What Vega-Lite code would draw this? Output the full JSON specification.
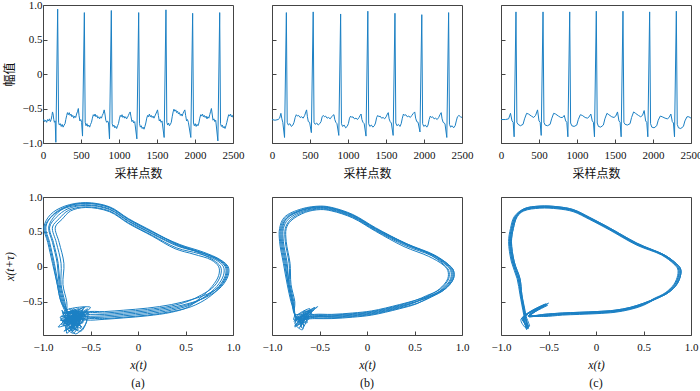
{
"$schema":"https://vega.github.io/schema/vega-lite/v6.json",
"background":"white",
"padding":{"left":2,"top":-2,"right":5,"bottom":0},
"config":{
 "view":{"stroke":"#444","strokeWidth":1},
 "axis":{"domain":false,"grid":false,"tickSize":-4,"tickColor":"#444","tickWidth":1,"labelFont":"Liberation Serif","labelFontSize":11,"labelColor":"#111","labelPadding":5,"labelFlush":false,"labelOverlap":false,"titleFont":"Liberation Serif","titleFontSize":12,"titleFontWeight":"normal","titleColor":"#111"},
 "axisX":{"labelPadding":10},
 "line":{"color":"#1b80c4","strokeWidth":1},
 "title":{"font":"Liberation Serif","fontSize":12,"fontWeight":"normal","color":"#111"}
},
"bounds":"flush",
"columns":3,
"spacing":{"row":54,"column":39},
"datasets":{
"ea":[{"x":0,"y":-0.68},{"x":10,"y":-0.66},{"x":22,"y":-0.69},{"x":35,"y":-0.67},{"x":48,"y":-0.70},{"x":60,"y":-0.66},{"x":72,"y":-0.68},{"x":85,"y":-0.65},{"x":97,"y":-0.69},{"x":108,"y":-0.66},{"x":118,"y":-0.60},{"x":125,"y":-0.55},{"x":133,"y":-0.58},{"x":142,"y":-0.66},{"x":150,"y":-0.70},{"x":160,"y":-0.68},{"x":169,"y":-0.99},{"x":193,"y":0.94},{"x":205,"y":-0.70},{"x":215,"y":-0.74},{"x":228,"y":-0.72},{"x":240,"y":-0.76},{"x":252,"y":-0.73},{"x":265,"y":-0.77},{"x":278,"y":-0.74},{"x":290,"y":-0.72},{"x":300,"y":-0.66},{"x":312,"y":-0.60},{"x":322,"y":-0.56},{"x":333,"y":-0.59},{"x":345,"y":-0.56},{"x":357,"y":-0.60},{"x":368,"y":-0.58},{"x":380,"y":-0.62},{"x":392,"y":-0.60},{"x":405,"y":-0.64},{"x":418,"y":-0.61},{"x":430,"y":-0.63},{"x":442,"y":-0.58},{"x":455,"y":-0.54},{"x":465,"y":-0.50},{"x":474,"y":-0.60},{"x":485,"y":-0.68},{"x":497,"y":-0.66},{"x":508,"y":-0.70},{"x":520,"y":-0.90},{"x":544,"y":0.89},{"x":555,"y":-0.70},{"x":566,"y":-0.75},{"x":578,"y":-0.72},{"x":590,"y":-0.76},{"x":602,"y":-0.74},{"x":614,"y":-0.77},{"x":626,"y":-0.73},{"x":638,"y":-0.70},{"x":650,"y":-0.64},{"x":662,"y":-0.59},{"x":673,"y":-0.61},{"x":685,"y":-0.58},{"x":697,"y":-0.62},{"x":709,"y":-0.60},{"x":721,"y":-0.64},{"x":733,"y":-0.62},{"x":745,"y":-0.65},{"x":757,"y":-0.62},{"x":769,"y":-0.64},{"x":781,"y":-0.60},{"x":793,"y":-0.57},{"x":805,"y":-0.52},{"x":815,"y":-0.58},{"x":826,"y":-0.67},{"x":838,"y":-0.70},{"x":850,"y":-0.68},{"x":862,"y":-0.71},{"x":875,"y":-0.94},{"x":899,"y":0.92},{"x":910,"y":-0.72},{"x":921,"y":-0.76},{"x":933,"y":-0.74},{"x":945,"y":-0.78},{"x":957,"y":-0.76},{"x":969,"y":-0.79},{"x":981,"y":-0.75},{"x":993,"y":-0.72},{"x":1005,"y":-0.65},{"x":1017,"y":-0.60},{"x":1028,"y":-0.62},{"x":1040,"y":-0.59},{"x":1052,"y":-0.63},{"x":1064,"y":-0.61},{"x":1076,"y":-0.64},{"x":1088,"y":-0.62},{"x":1100,"y":-0.65},{"x":1112,"y":-0.63},{"x":1124,"y":-0.60},{"x":1136,"y":-0.57},{"x":1147,"y":-0.55},{"x":1158,"y":-0.62},{"x":1170,"y":-0.69},{"x":1182,"y":-0.67},{"x":1194,"y":-0.71},{"x":1207,"y":-0.69},{"x":1235,"y":-0.94},{"x":1259,"y":0.89},{"x":1270,"y":-0.72},{"x":1281,"y":-0.77},{"x":1293,"y":-0.75},{"x":1305,"y":-0.79},{"x":1317,"y":-0.77},{"x":1329,"y":-0.80},{"x":1341,"y":-0.76},{"x":1353,"y":-0.71},{"x":1365,"y":-0.64},{"x":1377,"y":-0.60},{"x":1388,"y":-0.62},{"x":1400,"y":-0.58},{"x":1412,"y":-0.62},{"x":1424,"y":-0.60},{"x":1436,"y":-0.63},{"x":1448,"y":-0.61},{"x":1460,"y":-0.64},{"x":1472,"y":-0.61},{"x":1484,"y":-0.58},{"x":1496,"y":-0.55},{"x":1507,"y":-0.52},{"x":1518,"y":-0.60},{"x":1530,"y":-0.68},{"x":1542,"y":-0.66},{"x":1554,"y":-0.70},{"x":1566,"y":-0.68},{"x":1594,"y":-0.92},{"x":1618,"y":0.93},{"x":1629,"y":-0.70},{"x":1640,"y":-0.74},{"x":1652,"y":-0.71},{"x":1664,"y":-0.75},{"x":1676,"y":-0.73},{"x":1688,"y":-0.70},{"x":1700,"y":-0.62},{"x":1712,"y":-0.55},{"x":1723,"y":-0.51},{"x":1735,"y":-0.54},{"x":1747,"y":-0.52},{"x":1759,"y":-0.56},{"x":1771,"y":-0.54},{"x":1783,"y":-0.58},{"x":1795,"y":-0.56},{"x":1807,"y":-0.60},{"x":1819,"y":-0.58},{"x":1831,"y":-0.61},{"x":1843,"y":-0.57},{"x":1855,"y":-0.54},{"x":1866,"y":-0.52},{"x":1877,"y":-0.60},{"x":1889,"y":-0.68},{"x":1901,"y":-0.66},{"x":1913,"y":-0.70},{"x":1945,"y":-0.92},{"x":1969,"y":0.88},{"x":1980,"y":-0.71},{"x":1991,"y":-0.75},{"x":2003,"y":-0.72},{"x":2015,"y":-0.76},{"x":2027,"y":-0.73},{"x":2039,"y":-0.75},{"x":2051,"y":-0.71},{"x":2063,"y":-0.64},{"x":2075,"y":-0.59},{"x":2086,"y":-0.61},{"x":2098,"y":-0.58},{"x":2110,"y":-0.62},{"x":2122,"y":-0.60},{"x":2134,"y":-0.63},{"x":2146,"y":-0.61},{"x":2158,"y":-0.65},{"x":2170,"y":-0.62},{"x":2182,"y":-0.64},{"x":2194,"y":-0.59},{"x":2206,"y":-0.54},{"x":2216,"y":-0.50},{"x":2226,"y":-0.58},{"x":2237,"y":-0.67},{"x":2249,"y":-0.65},{"x":2261,"y":-0.69},{"x":2273,"y":-0.67},{"x":2301,"y":-0.97},{"x":2325,"y":0.89},{"x":2336,"y":-0.72},{"x":2347,"y":-0.76},{"x":2359,"y":-0.74},{"x":2371,"y":-0.78},{"x":2383,"y":-0.76},{"x":2395,"y":-0.79},{"x":2407,"y":-0.75},{"x":2419,"y":-0.70},{"x":2431,"y":-0.64},{"x":2443,"y":-0.59},{"x":2455,"y":-0.61},{"x":2467,"y":-0.58},{"x":2479,"y":-0.62},{"x":2490,"y":-0.60},{"x":2500,"y":-0.63}],
"eb":[{"x":0,"y":-0.66},{"x":40,"y":-0.67},{"x":80,"y":-0.66},{"x":100,"y":-0.64},{"x":117,"y":-0.57},{"x":130,"y":-0.65},{"x":142,"y":-0.70},{"x":165,"y":-0.92},{"x":189,"y":0.89},{"x":200,"y":-0.70},{"x":215,"y":-0.74},{"x":235,"y":-0.72},{"x":255,"y":-0.76},{"x":275,"y":-0.74},{"x":290,"y":-0.70},{"x":305,"y":-0.63},{"x":320,"y":-0.59},{"x":335,"y":-0.61},{"x":350,"y":-0.60},{"x":370,"y":-0.63},{"x":390,"y":-0.62},{"x":410,"y":-0.64},{"x":430,"y":-0.60},{"x":445,"y":-0.55},{"x":455,"y":-0.52},{"x":466,"y":-0.62},{"x":478,"y":-0.69},{"x":495,"y":-0.70},{"x":518,"y":-0.85},{"x":542,"y":0.90},{"x":553,"y":-0.70},{"x":568,"y":-0.73},{"x":588,"y":-0.71},{"x":608,"y":-0.74},{"x":628,"y":-0.72},{"x":645,"y":-0.69},{"x":660,"y":-0.62},{"x":675,"y":-0.60},{"x":690,"y":-0.62},{"x":705,"y":-0.61},{"x":725,"y":-0.64},{"x":745,"y":-0.63},{"x":765,"y":-0.65},{"x":785,"y":-0.62},{"x":800,"y":-0.60},{"x":815,"y":-0.59},{"x":826,"y":-0.66},{"x":840,"y":-0.70},{"x":855,"y":-0.72},{"x":879,"y":-0.89},{"x":903,"y":0.87},{"x":914,"y":-0.72},{"x":929,"y":-0.76},{"x":949,"y":-0.74},{"x":969,"y":-0.78},{"x":989,"y":-0.76},{"x":1005,"y":-0.72},{"x":1020,"y":-0.64},{"x":1035,"y":-0.61},{"x":1050,"y":-0.63},{"x":1065,"y":-0.62},{"x":1085,"y":-0.65},{"x":1105,"y":-0.64},{"x":1125,"y":-0.66},{"x":1145,"y":-0.63},{"x":1160,"y":-0.60},{"x":1172,"y":-0.58},{"x":1183,"y":-0.66},{"x":1197,"y":-0.70},{"x":1213,"y":-0.72},{"x":1237,"y":-0.90},{"x":1261,"y":0.91},{"x":1272,"y":-0.72},{"x":1287,"y":-0.76},{"x":1307,"y":-0.74},{"x":1327,"y":-0.77},{"x":1347,"y":-0.75},{"x":1362,"y":-0.71},{"x":1377,"y":-0.63},{"x":1392,"y":-0.60},{"x":1407,"y":-0.62},{"x":1422,"y":-0.61},{"x":1442,"y":-0.64},{"x":1462,"y":-0.63},{"x":1482,"y":-0.65},{"x":1502,"y":-0.62},{"x":1518,"y":-0.58},{"x":1530,"y":-0.56},{"x":1541,"y":-0.65},{"x":1555,"y":-0.69},{"x":1570,"y":-0.71},{"x":1594,"y":-0.89},{"x":1618,"y":0.88},{"x":1629,"y":-0.71},{"x":1644,"y":-0.75},{"x":1664,"y":-0.73},{"x":1684,"y":-0.76},{"x":1700,"y":-0.72},{"x":1715,"y":-0.64},{"x":1730,"y":-0.58},{"x":1745,"y":-0.60},{"x":1760,"y":-0.59},{"x":1780,"y":-0.62},{"x":1800,"y":-0.61},{"x":1820,"y":-0.63},{"x":1840,"y":-0.60},{"x":1860,"y":-0.57},{"x":1878,"y":-0.55},{"x":1890,"y":-0.64},{"x":1905,"y":-0.69},{"x":1922,"y":-0.70},{"x":1947,"y":-0.84},{"x":1971,"y":0.86},{"x":1982,"y":-0.72},{"x":1997,"y":-0.76},{"x":2017,"y":-0.74},{"x":2037,"y":-0.77},{"x":2053,"y":-0.74},{"x":2068,"y":-0.66},{"x":2083,"y":-0.61},{"x":2098,"y":-0.63},{"x":2113,"y":-0.62},{"x":2133,"y":-0.65},{"x":2153,"y":-0.64},{"x":2173,"y":-0.66},{"x":2193,"y":-0.63},{"x":2210,"y":-0.59},{"x":2226,"y":-0.56},{"x":2238,"y":-0.65},{"x":2252,"y":-0.70},{"x":2276,"y":-0.72},{"x":2300,"y":-0.92},{"x":2324,"y":0.89},{"x":2335,"y":-0.73},{"x":2350,"y":-0.77},{"x":2370,"y":-0.75},{"x":2390,"y":-0.78},{"x":2410,"y":-0.75},{"x":2425,"y":-0.68},{"x":2440,"y":-0.62},{"x":2460,"y":-0.60},{"x":2480,"y":-0.62},{"x":2500,"y":-0.63}],
"ec":[{"x":0,"y":-0.66},{"x":60,"y":-0.66},{"x":100,"y":-0.65},{"x":125,"y":-0.57},{"x":145,"y":-0.68},{"x":160,"y":-0.70},{"x":173,"y":-0.91},{"x":197,"y":0.90},{"x":209,"y":-0.70},{"x":225,"y":-0.73},{"x":255,"y":-0.75},{"x":290,"y":-0.73},{"x":310,"y":-0.65},{"x":337,"y":-0.57},{"x":362,"y":-0.58},{"x":400,"y":-0.61},{"x":430,"y":-0.63},{"x":455,"y":-0.60},{"x":481,"y":-0.52},{"x":500,"y":-0.68},{"x":515,"y":-0.70},{"x":529,"y":-0.89},{"x":553,"y":0.90},{"x":565,"y":-0.70},{"x":581,"y":-0.74},{"x":611,"y":-0.75},{"x":646,"y":-0.73},{"x":666,"y":-0.65},{"x":693,"y":-0.57},{"x":718,"y":-0.58},{"x":756,"y":-0.61},{"x":786,"y":-0.63},{"x":810,"y":-0.63},{"x":832,"y":-0.60},{"x":851,"y":-0.68},{"x":866,"y":-0.70},{"x":880,"y":-0.91},{"x":904,"y":0.90},{"x":916,"y":-0.71},{"x":932,"y":-0.75},{"x":962,"y":-0.76},{"x":997,"y":-0.74},{"x":1017,"y":-0.66},{"x":1044,"y":-0.59},{"x":1069,"y":-0.60},{"x":1107,"y":-0.63},{"x":1137,"y":-0.64},{"x":1160,"y":-0.62},{"x":1182,"y":-0.58},{"x":1201,"y":-0.68},{"x":1216,"y":-0.70},{"x":1230,"y":-0.91},{"x":1254,"y":0.91},{"x":1266,"y":-0.71},{"x":1282,"y":-0.76},{"x":1312,"y":-0.77},{"x":1347,"y":-0.74},{"x":1367,"y":-0.65},{"x":1394,"y":-0.57},{"x":1419,"y":-0.59},{"x":1457,"y":-0.62},{"x":1487,"y":-0.63},{"x":1510,"y":-0.61},{"x":1533,"y":-0.55},{"x":1552,"y":-0.68},{"x":1567,"y":-0.70},{"x":1581,"y":-0.91},{"x":1605,"y":0.91},{"x":1617,"y":-0.70},{"x":1633,"y":-0.73},{"x":1663,"y":-0.74},{"x":1698,"y":-0.72},{"x":1718,"y":-0.63},{"x":1745,"y":-0.55},{"x":1770,"y":-0.57},{"x":1808,"y":-0.60},{"x":1838,"y":-0.62},{"x":1862,"y":-0.60},{"x":1884,"y":-0.53},{"x":1903,"y":-0.68},{"x":1918,"y":-0.70},{"x":1932,"y":-0.91},{"x":1956,"y":0.90},{"x":1968,"y":-0.72},{"x":1984,"y":-0.77},{"x":2014,"y":-0.78},{"x":2049,"y":-0.75},{"x":2069,"y":-0.67},{"x":2096,"y":-0.61},{"x":2121,"y":-0.62},{"x":2159,"y":-0.64},{"x":2189,"y":-0.65},{"x":2212,"y":-0.63},{"x":2235,"y":-0.58},{"x":2254,"y":-0.69},{"x":2269,"y":-0.71},{"x":2283,"y":-0.91},{"x":2307,"y":0.91},{"x":2319,"y":-0.73},{"x":2335,"y":-0.78},{"x":2365,"y":-0.79},{"x":2400,"y":-0.76},{"x":2420,"y":-0.68},{"x":2447,"y":-0.62},{"x":2472,"y":-0.62},{"x":2500,"y":-0.64}],
"pa":[{"x":-0.68,"y":-0.72},
{"x":-0.55,"y":-0.71},{"x":-0.35,"y":-0.70},{"x":-0.15,"y":-0.68},{"x":0.10,"y":-0.65},{"x":0.35,"y":-0.60},{"x":0.55,"y":-0.53},{"x":0.72,"y":-0.42},{"x":0.85,"y":-0.28},{"x":0.92,"y":-0.12},{"x":0.92,"y":0.00},{"x":0.84,"y":0.10},{"x":0.66,"y":0.21},{"x":0.42,"y":0.32},{"x":0.15,"y":0.50},{"x":-0.10,"y":0.68},{"x":-0.30,"y":0.85},{"x":-0.55,"y":0.91},{"x":-0.76,"y":0.86},{"x":-0.90,"y":0.74},{"x":-0.97,"y":0.57},{"x":-0.93,"y":0.35},{"x":-0.88,"y":0.05},{"x":-0.84,"y":-0.25},{"x":-0.80,"y":-0.50},{"x":-0.74,"y":-0.68},
{"x":-0.70,"y":-0.80},{"x":-0.62,"y":-0.66},{"x":-0.75,"y":-0.74},{"x":-0.58,"y":-0.62},{"x":-0.72,"y":-0.88},{"x":-0.66,"y":-0.70},{"x":-0.80,"y":-0.78},{"x":-0.60,"y":-0.72},{"x":-0.69,"y":-0.93},{"x":-0.64,"y":-0.68},{"x":-0.78,"y":-0.66},{"x":-0.55,"y":-0.70},{"x":-0.73,"y":-0.92},{"x":-0.61,"y":-0.82},
{"x":-0.55,"y":-0.75},{"x":-0.35,"y":-0.74},{"x":-0.15,"y":-0.72},{"x":0.10,"y":-0.69},{"x":0.35,"y":-0.64},{"x":0.56,"y":-0.57},{"x":0.74,"y":-0.44},{"x":0.87,"y":-0.28},{"x":0.94,"y":-0.12},{"x":0.94,"y":0.00},{"x":0.86,"y":0.10},{"x":0.68,"y":0.20},{"x":0.43,"y":0.29},{"x":0.15,"y":0.47},{"x":-0.10,"y":0.65},{"x":-0.30,"y":0.82},{"x":-0.55,"y":0.88},{"x":-0.74,"y":0.83},{"x":-0.86,"y":0.71},{"x":-0.93,"y":0.57},{"x":-0.89,"y":0.35},{"x":-0.84,"y":0.05},{"x":-0.82,"y":-0.25},{"x":-0.78,"y":-0.50},{"x":-0.74,"y":-0.68},
{"x":-0.77,"y":-0.70},{"x":-0.56,"y":-0.58},{"x":-0.70,"y":-0.76},{"x":-0.66,"y":-0.90},{"x":-0.74,"y":-0.66},{"x":-0.61,"y":-0.75},{"x":-0.79,"y":-0.84},{"x":-0.63,"y":-0.64},{"x":-0.71,"y":-0.72},{"x":-0.67,"y":-0.80},{"x":-0.82,"y":-0.76},{"x":-0.58,"y":-0.80},{"x":-0.68,"y":-0.60},{"x":-0.75,"y":-0.95},
{"x":-0.55,"y":-0.67},{"x":-0.35,"y":-0.66},{"x":-0.15,"y":-0.64},{"x":0.10,"y":-0.61},{"x":0.35,"y":-0.56},{"x":0.53,"y":-0.49},{"x":0.67,"y":-0.40},{"x":0.80,"y":-0.28},{"x":0.87,"y":-0.12},{"x":0.87,"y":0.00},{"x":0.79,"y":0.10},{"x":0.61,"y":0.22},{"x":0.40,"y":0.33},{"x":0.15,"y":0.51},{"x":-0.10,"y":0.69},{"x":-0.30,"y":0.86},{"x":-0.55,"y":0.92},{"x":-0.77,"y":0.87},{"x":-0.92,"y":0.75},{"x":-0.99,"y":0.57},{"x":-0.95,"y":0.35},{"x":-0.90,"y":0.05},{"x":-0.85,"y":-0.25},{"x":-0.81,"y":-0.50},{"x":-0.74,"y":-0.68},
{"x":-0.73,"y":-0.82},{"x":-0.59,"y":-0.68},{"x":-0.68,"y":-0.62},{"x":-0.76,"y":-0.90},{"x":-0.62,"y":-0.78},{"x":-0.81,"y":-0.74},{"x":-0.65,"y":-0.70},{"x":-0.53,"y":-0.60},{"x":-0.70,"y":-0.85},{"x":-0.66,"y":-0.73},{"x":-0.60,"y":-0.88},{"x":-0.79,"y":-0.66},{"x":-0.52,"y":-0.66},{"x":-0.72,"y":-0.76},
{"x":-0.55,"y":-0.73},{"x":-0.35,"y":-0.72},{"x":-0.15,"y":-0.70},{"x":0.10,"y":-0.67},{"x":0.35,"y":-0.62},{"x":0.54,"y":-0.55},{"x":0.70,"y":-0.43},{"x":0.83,"y":-0.28},{"x":0.90,"y":-0.12},{"x":0.90,"y":0.00},{"x":0.82,"y":0.10},{"x":0.64,"y":0.19},{"x":0.41,"y":0.27},{"x":0.15,"y":0.45},{"x":-0.10,"y":0.63},{"x":-0.30,"y":0.80},{"x":-0.55,"y":0.86},{"x":-0.73,"y":0.81},{"x":-0.83,"y":0.69},{"x":-0.90,"y":0.57},{"x":-0.86,"y":0.35},{"x":-0.81,"y":0.05},{"x":-0.81,"y":-0.25},{"x":-0.77,"y":-0.50},{"x":-0.74,"y":-0.68},
{"x":-0.64,"y":-0.86},{"x":-0.72,"y":-0.68},{"x":-0.57,"y":-0.66},{"x":-0.78,"y":-0.80},{"x":-0.68,"y":-0.95},{"x":-0.61,"y":-0.70},{"x":-0.74,"y":-0.76},{"x":-0.66,"y":-0.62},{"x":-0.80,"y":-0.70},{"x":-0.69,"y":-0.78},{"x":-0.84,"y":-0.86},{"x":-0.57,"y":-0.58},{"x":-0.70,"y":-0.84},{"x":-0.63,"y":-0.74},
{"x":-0.55,"y":-0.65},{"x":-0.35,"y":-0.64},{"x":-0.15,"y":-0.62},{"x":0.10,"y":-0.59},{"x":0.35,"y":-0.54},{"x":0.56,"y":-0.47},{"x":0.73,"y":-0.39},{"x":0.86,"y":-0.28},{"x":0.93,"y":-0.12},{"x":0.93,"y":0.00},{"x":0.85,"y":0.10},{"x":0.67,"y":0.20},{"x":0.43,"y":0.30},{"x":0.15,"y":0.48},{"x":-0.10,"y":0.66},{"x":-0.30,"y":0.83},{"x":-0.55,"y":0.89},{"x":-0.77,"y":0.84},{"x":-0.91,"y":0.72},{"x":-0.98,"y":0.57},{"x":-0.94,"y":0.35},{"x":-0.89,"y":0.05},{"x":-0.85,"y":-0.25},{"x":-0.81,"y":-0.50},{"x":-0.74,"y":-0.68},
{"x":-0.71,"y":-0.64},{"x":-0.60,"y":-0.80},{"x":-0.75,"y":-0.86},{"x":-0.55,"y":-0.63},{"x":-0.67,"y":-0.74},{"x":-0.79,"y":-0.77},{"x":-0.63,"y":-0.90},{"x":-0.70,"y":-0.70},{"x":-0.58,"y":-0.71},{"x":-0.73,"y":-0.80},{"x":-0.80,"y":-0.62},{"x":-0.66,"y":-0.96},{"x":-0.54,"y":-0.76},{"x":-0.75,"y":-0.70},
{"x":-0.55,"y":-0.76},{"x":-0.35,"y":-0.75},{"x":-0.15,"y":-0.73},{"x":0.10,"y":-0.70},{"x":0.35,"y":-0.65},{"x":0.52,"y":-0.58},{"x":0.65,"y":-0.45},{"x":0.78,"y":-0.28},{"x":0.85,"y":-0.12},{"x":0.85,"y":0.00},{"x":0.77,"y":0.10},{"x":0.59,"y":0.18},{"x":0.39,"y":0.26},{"x":0.15,"y":0.44},{"x":-0.10,"y":0.62},{"x":-0.30,"y":0.79},{"x":-0.55,"y":0.85},{"x":-0.71,"y":0.80},{"x":-0.80,"y":0.68},{"x":-0.87,"y":0.57},{"x":-0.83,"y":0.35},{"x":-0.78,"y":0.05},{"x":-0.79,"y":-0.25},{"x":-0.75,"y":-0.50},{"x":-0.74,"y":-0.68},
{"x":-0.66,"y":-0.82},{"x":-0.76,"y":-0.72},{"x":-0.62,"y":-0.60},{"x":-0.70,"y":-0.92},{"x":-0.57,"y":-0.74},{"x":-0.81,"y":-0.82},{"x":-0.65,"y":-0.67},{"x":-0.73,"y":-0.78},{"x":-0.60,"y":-0.66},{"x":-0.68,"y":-0.75},{"x":-0.59,"y":-0.86},{"x":-0.78,"y":-0.64},{"x":-0.50,"y":-0.58},{"x":-0.71,"y":-0.80},
{"x":-0.55,"y":-0.69},{"x":-0.35,"y":-0.68},{"x":-0.15,"y":-0.66},{"x":0.10,"y":-0.63},{"x":0.35,"y":-0.58},{"x":0.57,"y":-0.51},{"x":0.75,"y":-0.41},{"x":0.88,"y":-0.28},{"x":0.95,"y":-0.12},{"x":0.95,"y":0.00},{"x":0.87,"y":0.10},{"x":0.69,"y":0.21},{"x":0.44,"y":0.32},{"x":0.15,"y":0.50},{"x":-0.10,"y":0.68},{"x":-0.30,"y":0.85},{"x":-0.55,"y":0.91},{"x":-0.75,"y":0.86},{"x":-0.87,"y":0.74},{"x":-0.94,"y":0.57},{"x":-0.90,"y":0.35},{"x":-0.85,"y":0.05},{"x":-0.83,"y":-0.25},{"x":-0.79,"y":-0.50},{"x":-0.74,"y":-0.68},
{"x":-0.74,"y":-0.70},{"x":-0.63,"y":-0.84},{"x":-0.69,"y":-0.64},{"x":-0.56,"y":-0.69},{"x":-0.78,"y":-0.92},{"x":-0.66,"y":-0.78},{"x":-0.72,"y":-0.60},{"x":-0.61,"y":-0.76},{"x":-0.76,"y":-0.82},{"x":-0.68,"y":-0.72},{"x":-0.82,"y":-0.72},{"x":-0.60,"y":-0.92},{"x":-0.53,"y":-0.64},{"x":-0.70,"y":-0.76}],
"pb":[{"x":-0.70,"y":-0.72},
{"x":-0.55,"y":-0.71},{"x":-0.37,"y":-0.71},{"x":-0.15,"y":-0.69},{"x":0.05,"y":-0.66},{"x":0.34,"y":-0.57},{"x":0.52,"y":-0.50},{"x":0.66,"y":-0.42},{"x":0.80,"y":-0.32},{"x":0.89,"y":-0.17},{"x":0.89,"y":-0.05},{"x":0.84,"y":0.03},{"x":0.69,"y":0.17},{"x":0.41,"y":0.33},{"x":0.09,"y":0.55},{"x":-0.15,"y":0.74},{"x":-0.37,"y":0.84},{"x":-0.49,"y":0.86},{"x":-0.68,"y":0.82},{"x":-0.86,"y":0.70},{"x":-0.91,"y":0.55},{"x":-0.91,"y":0.36},{"x":-0.87,"y":0.05},{"x":-0.83,"y":-0.25},{"x":-0.79,"y":-0.50},{"x":-0.76,"y":-0.68},
{"x":-0.72,"y":-0.80},{"x":-0.60,"y":-0.62},{"x":-0.75,"y":-0.74},{"x":-0.66,"y":-0.70},{"x":-0.70,"y":-0.86},{"x":-0.64,"y":-0.72},
{"x":-0.55,"y":-0.73},{"x":-0.37,"y":-0.73},{"x":-0.15,"y":-0.71},{"x":0.05,"y":-0.68},{"x":0.34,"y":-0.59},{"x":0.53,"y":-0.52},{"x":0.68,"y":-0.43},{"x":0.82,"y":-0.32},{"x":0.91,"y":-0.17},{"x":0.91,"y":-0.05},{"x":0.86,"y":0.03},{"x":0.71,"y":0.16},{"x":0.42,"y":0.31},{"x":0.09,"y":0.53},{"x":-0.15,"y":0.72},{"x":-0.37,"y":0.82},{"x":-0.49,"y":0.84},{"x":-0.67,"y":0.80},{"x":-0.83,"y":0.68},{"x":-0.88,"y":0.55},{"x":-0.88,"y":0.36},{"x":-0.84,"y":0.05},{"x":-0.82,"y":-0.25},{"x":-0.78,"y":-0.50},{"x":-0.76,"y":-0.68},
{"x":-0.77,"y":-0.76},{"x":-0.55,"y":-0.58},{"x":-0.70,"y":-0.72},{"x":-0.68,"y":-0.88},{"x":-0.62,"y":-0.68},{"x":-0.72,"y":-0.75},
{"x":-0.55,"y":-0.69},{"x":-0.37,"y":-0.69},{"x":-0.15,"y":-0.67},{"x":0.05,"y":-0.64},{"x":0.34,"y":-0.55},{"x":0.51,"y":-0.48},{"x":0.63,"y":-0.41},{"x":0.77,"y":-0.32},{"x":0.86,"y":-0.17},{"x":0.86,"y":-0.05},{"x":0.81,"y":0.03},{"x":0.66,"y":0.18},{"x":0.40,"y":0.34},{"x":0.09,"y":0.56},{"x":-0.15,"y":0.75},{"x":-0.37,"y":0.85},{"x":-0.49,"y":0.87},{"x":-0.69,"y":0.83},{"x":-0.87,"y":0.71},{"x":-0.92,"y":0.55},{"x":-0.92,"y":0.36},{"x":-0.88,"y":0.05},{"x":-0.84,"y":-0.25},{"x":-0.80,"y":-0.50},{"x":-0.76,"y":-0.68},
{"x":-0.74,"y":-0.82},{"x":-0.58,"y":-0.64},{"x":-0.69,"y":-0.70},{"x":-0.77,"y":-0.78},{"x":-0.63,"y":-0.66},{"x":-0.70,"y":-0.74},
{"x":-0.55,"y":-0.74},{"x":-0.37,"y":-0.74},{"x":-0.15,"y":-0.72},{"x":0.05,"y":-0.69},{"x":0.34,"y":-0.60},{"x":0.52,"y":-0.53},{"x":0.65,"y":-0.44},{"x":0.79,"y":-0.32},{"x":0.88,"y":-0.17},{"x":0.88,"y":-0.05},{"x":0.83,"y":0.03},{"x":0.68,"y":0.16},{"x":0.41,"y":0.30},{"x":0.09,"y":0.52},{"x":-0.15,"y":0.71},{"x":-0.37,"y":0.81},{"x":-0.49,"y":0.83},{"x":-0.66,"y":0.79},{"x":-0.81,"y":0.67},{"x":-0.86,"y":0.55},{"x":-0.86,"y":0.36},{"x":-0.82,"y":0.05},{"x":-0.81,"y":-0.25},{"x":-0.77,"y":-0.50},{"x":-0.76,"y":-0.68},
{"x":-0.66,"y":-0.84},{"x":-0.73,"y":-0.70},{"x":-0.56,"y":-0.62},{"x":-0.76,"y":-0.80},{"x":-0.68,"y":-0.90},{"x":-0.65,"y":-0.71},
{"x":-0.55,"y":-0.68},{"x":-0.37,"y":-0.68},{"x":-0.15,"y":-0.66},{"x":0.05,"y":-0.63},{"x":0.34,"y":-0.54},{"x":0.53,"y":-0.47},{"x":0.67,"y":-0.41},{"x":0.81,"y":-0.32},{"x":0.90,"y":-0.17},{"x":0.90,"y":-0.05},{"x":0.85,"y":0.03},{"x":0.70,"y":0.17},{"x":0.42,"y":0.32},{"x":0.09,"y":0.54},{"x":-0.15,"y":0.73},{"x":-0.37,"y":0.83},{"x":-0.49,"y":0.85},{"x":-0.68,"y":0.81},{"x":-0.85,"y":0.69},{"x":-0.90,"y":0.55},{"x":-0.90,"y":0.36},{"x":-0.86,"y":0.05},{"x":-0.83,"y":-0.25},{"x":-0.79,"y":-0.50},{"x":-0.76,"y":-0.68},
{"x":-0.71,"y":-0.68},{"x":-0.61,"y":-0.74},{"x":-0.76,"y":-0.84},{"x":-0.52,"y":-0.57},{"x":-0.69,"y":-0.73},{"x":-0.73,"y":-0.78},
{"x":-0.55,"y":-0.72},{"x":-0.37,"y":-0.72},{"x":-0.15,"y":-0.70},{"x":0.05,"y":-0.67},{"x":0.34,"y":-0.58},{"x":0.50,"y":-0.51},{"x":0.62,"y":-0.43},{"x":0.76,"y":-0.32},{"x":0.85,"y":-0.17},{"x":0.85,"y":-0.05},{"x":0.80,"y":0.03},{"x":0.65,"y":0.15},{"x":0.39,"y":0.29},{"x":0.09,"y":0.51},{"x":-0.15,"y":0.70},{"x":-0.37,"y":0.80},{"x":-0.49,"y":0.82},{"x":-0.65,"y":0.78},{"x":-0.80,"y":0.66},{"x":-0.85,"y":0.55},{"x":-0.85,"y":0.36},{"x":-0.81,"y":0.05},{"x":-0.80,"y":-0.25},{"x":-0.76,"y":-0.50},{"x":-0.76,"y":-0.68},
{"x":-0.67,"y":-0.82},{"x":-0.75,"y":-0.72},{"x":-0.60,"y":-0.60},{"x":-0.71,"y":-0.87},{"x":-0.64,"y":-0.70},{"x":-0.70,"y":-0.76},
{"x":-0.55,"y":-0.70},{"x":-0.37,"y":-0.70},{"x":-0.15,"y":-0.68},{"x":0.05,"y":-0.65},{"x":0.34,"y":-0.56},{"x":0.53,"y":-0.49},{"x":0.68,"y":-0.42},{"x":0.82,"y":-0.32},{"x":0.91,"y":-0.17},{"x":0.91,"y":-0.05},{"x":0.86,"y":0.03},{"x":0.71,"y":0.17},{"x":0.42,"y":0.33},{"x":0.09,"y":0.55},{"x":-0.15,"y":0.74},{"x":-0.37,"y":0.84},{"x":-0.49,"y":0.86},{"x":-0.67,"y":0.82},{"x":-0.84,"y":0.70},{"x":-0.89,"y":0.55},{"x":-0.89,"y":0.36},{"x":-0.85,"y":0.05},{"x":-0.82,"y":-0.25},{"x":-0.78,"y":-0.50},{"x":-0.76,"y":-0.68},
{"x":-0.74,"y":-0.72},{"x":-0.63,"y":-0.80},{"x":-0.67,"y":-0.64},{"x":-0.58,"y":-0.66},{"x":-0.76,"y":-0.86},{"x":-0.69,"y":-0.73}],
"pc":[{"x":-0.72,"y":-0.70},
{"x":-0.55,"y":-0.69},{"x":-0.35,"y":-0.67},{"x":0.00,"y":-0.65},{"x":0.20,"y":-0.63},{"x":0.36,"y":-0.59},{"x":0.50,"y":-0.53},{"x":0.62,"y":-0.46},{"x":0.75,"y":-0.37},{"x":0.84,"y":-0.25},{"x":0.88,"y":-0.12},{"x":0.88,"y":-0.03},{"x":0.84,"y":0.04},{"x":0.71,"y":0.17},{"x":0.43,"y":0.33},{"x":0.14,"y":0.55},{"x":-0.07,"y":0.70},{"x":-0.24,"y":0.81},{"x":-0.40,"y":0.85},{"x":-0.59,"y":0.86},{"x":-0.76,"y":0.82},{"x":-0.85,"y":0.72},{"x":-0.89,"y":0.55},{"x":-0.91,"y":0.36},{"x":-0.88,"y":0.07},{"x":-0.82,"y":-0.17},{"x":-0.79,"y":-0.40},{"x":-0.75,"y":-0.69},{"x":-0.72,"y":-0.88},{"x":-0.76,"y":-0.73},{"x":-0.52,"y":-0.54},{"x":-0.70,"y":-0.70},
{"x":-0.55,"y":-0.70},{"x":-0.35,"y":-0.68},{"x":0.00,"y":-0.66},{"x":0.20,"y":-0.64},{"x":0.36,"y":-0.60},{"x":0.50,"y":-0.54},{"x":0.63,"y":-0.46},{"x":0.76,"y":-0.37},{"x":0.85,"y":-0.25},{"x":0.89,"y":-0.12},{"x":0.89,"y":-0.03},{"x":0.85,"y":0.04},{"x":0.72,"y":0.17},{"x":0.43,"y":0.32},{"x":0.14,"y":0.54},{"x":-0.07,"y":0.69},{"x":-0.24,"y":0.80},{"x":-0.40,"y":0.84},{"x":-0.59,"y":0.85},{"x":-0.76,"y":0.81},{"x":-0.84,"y":0.72},{"x":-0.88,"y":0.55},{"x":-0.90,"y":0.36},{"x":-0.87,"y":0.07},{"x":-0.81,"y":-0.17},{"x":-0.79,"y":-0.40},{"x":-0.75,"y":-0.69},{"x":-0.71,"y":-0.86},{"x":-0.77,"y":-0.74},{"x":-0.50,"y":-0.52},{"x":-0.71,"y":-0.71},
{"x":-0.55,"y":-0.68},{"x":-0.35,"y":-0.66},{"x":0.00,"y":-0.64},{"x":0.20,"y":-0.62},{"x":0.36,"y":-0.58},{"x":0.50,"y":-0.52},{"x":0.61,"y":-0.46},{"x":0.74,"y":-0.37},{"x":0.83,"y":-0.25},{"x":0.87,"y":-0.12},{"x":0.87,"y":-0.03},{"x":0.83,"y":0.04},{"x":0.70,"y":0.17},{"x":0.43,"y":0.34},{"x":0.14,"y":0.56},{"x":-0.07,"y":0.71},{"x":-0.24,"y":0.82},{"x":-0.40,"y":0.86},{"x":-0.59,"y":0.87},{"x":-0.76,"y":0.83},{"x":-0.86,"y":0.72},{"x":-0.90,"y":0.55},{"x":-0.92,"y":0.36},{"x":-0.89,"y":0.07},{"x":-0.83,"y":-0.17},{"x":-0.80,"y":-0.40},{"x":-0.76,"y":-0.69},{"x":-0.73,"y":-0.90},{"x":-0.75,"y":-0.72},{"x":-0.55,"y":-0.56},{"x":-0.70,"y":-0.69},
{"x":-0.55,"y":-0.71},{"x":-0.35,"y":-0.69},{"x":0.00,"y":-0.67},{"x":0.20,"y":-0.65},{"x":0.36,"y":-0.61},{"x":0.50,"y":-0.55},{"x":0.61,"y":-0.47},{"x":0.74,"y":-0.37},{"x":0.83,"y":-0.25},{"x":0.87,"y":-0.12},{"x":0.87,"y":-0.03},{"x":0.83,"y":0.04},{"x":0.70,"y":0.17},{"x":0.43,"y":0.32},{"x":0.14,"y":0.54},{"x":-0.07,"y":0.69},{"x":-0.24,"y":0.80},{"x":-0.40,"y":0.84},{"x":-0.59,"y":0.85},{"x":-0.76,"y":0.81},{"x":-0.83,"y":0.72},{"x":-0.87,"y":0.55},{"x":-0.89,"y":0.36},{"x":-0.86,"y":0.07},{"x":-0.80,"y":-0.17},{"x":-0.78,"y":-0.40},{"x":-0.74,"y":-0.69},{"x":-0.70,"y":-0.85},{"x":-0.78,"y":-0.74},{"x":-0.53,"y":-0.53},{"x":-0.71,"y":-0.70},
{"x":-0.55,"y":-0.68},{"x":-0.35,"y":-0.66},{"x":0.00,"y":-0.64},{"x":0.20,"y":-0.62},{"x":0.36,"y":-0.58},{"x":0.50,"y":-0.52},{"x":0.63,"y":-0.45},{"x":0.76,"y":-0.37},{"x":0.85,"y":-0.25},{"x":0.89,"y":-0.12},{"x":0.89,"y":-0.03},{"x":0.85,"y":0.04},{"x":0.72,"y":0.17},{"x":0.43,"y":0.33},{"x":0.14,"y":0.55},{"x":-0.07,"y":0.70},{"x":-0.24,"y":0.81},{"x":-0.40,"y":0.85},{"x":-0.59,"y":0.86},{"x":-0.76,"y":0.82},{"x":-0.85,"y":0.72},{"x":-0.89,"y":0.55},{"x":-0.91,"y":0.36},{"x":-0.88,"y":0.07},{"x":-0.82,"y":-0.17},{"x":-0.79,"y":-0.40},{"x":-0.75,"y":-0.69},{"x":-0.72,"y":-0.89},{"x":-0.76,"y":-0.72},{"x":-0.51,"y":-0.55},{"x":-0.70,"y":-0.70},
{"x":-0.55,"y":-0.70},{"x":-0.35,"y":-0.68},{"x":0.00,"y":-0.66},{"x":0.20,"y":-0.64},{"x":0.36,"y":-0.60},{"x":0.50,"y":-0.54},{"x":0.60,"y":-0.46},{"x":0.73,"y":-0.37},{"x":0.82,"y":-0.25},{"x":0.86,"y":-0.12},{"x":0.86,"y":-0.03},{"x":0.82,"y":0.04},{"x":0.69,"y":0.17},{"x":0.43,"y":0.31},{"x":0.14,"y":0.53},{"x":-0.07,"y":0.68},{"x":-0.24,"y":0.79},{"x":-0.40,"y":0.83},{"x":-0.59,"y":0.84},{"x":-0.76,"y":0.80},{"x":-0.83,"y":0.72},{"x":-0.87,"y":0.55},{"x":-0.89,"y":0.36},{"x":-0.86,"y":0.07},{"x":-0.80,"y":-0.17},{"x":-0.78,"y":-0.40},{"x":-0.74,"y":-0.69},{"x":-0.74,"y":-0.87},{"x":-0.79,"y":-0.75},{"x":-0.56,"y":-0.57},{"x":-0.71,"y":-0.71},
{"x":-0.55,"y":-0.69},{"x":-0.35,"y":-0.67},{"x":0.00,"y":-0.65},{"x":0.20,"y":-0.63},{"x":0.36,"y":-0.59},{"x":0.50,"y":-0.53},{"x":0.63,"y":-0.46},{"x":0.76,"y":-0.37},{"x":0.85,"y":-0.25},{"x":0.89,"y":-0.12},{"x":0.89,"y":-0.03},{"x":0.85,"y":0.04},{"x":0.72,"y":0.17},{"x":0.43,"y":0.34},{"x":0.14,"y":0.56},{"x":-0.07,"y":0.71},{"x":-0.24,"y":0.82},{"x":-0.40,"y":0.86},{"x":-0.59,"y":0.87},{"x":-0.76,"y":0.83},{"x":-0.84,"y":0.72},{"x":-0.88,"y":0.55},{"x":-0.90,"y":0.36},{"x":-0.87,"y":0.07},{"x":-0.81,"y":-0.17},{"x":-0.79,"y":-0.40},{"x":-0.75,"y":-0.69},{"x":-0.71,"y":-0.88},{"x":-0.77,"y":-0.73},{"x":-0.54,"y":-0.54},{"x":-0.70,"y":-0.70}]
},
"concat":[
{"width":190,"height":138,"data":{"name":"ea"},"mark":{"type":"line","clip":true},
 "encoding":{
  "x":{"field":"x","type":"quantitative","scale":{"domain":[0,2500],"nice":false,"zero":false},"axis":{"values":[0,500,1000,1500,2000,2500],"format":"d","title":"采样点数","titleFont":"Noto Sans CJK SC","titlePadding":8}},
  "y":{"field":"y","type":"quantitative","scale":{"domain":[-1,1],"nice":false,"zero":false},"axis":{"values":[-1,-0.5,0,0.5,1],"labelExpr":"datum.value==0?'0':format(datum.value,'.1f')","title":"幅值","titleFont":"Noto Sans CJK SC","titlePadding":6}}}},
{"width":190,"height":138,"data":{"name":"eb"},"mark":{"type":"line","clip":true},
 "encoding":{
  "x":{"field":"x","type":"quantitative","scale":{"domain":[0,2500],"nice":false,"zero":false},"axis":{"values":[0,500,1000,1500,2000,2500],"format":"d","title":"采样点数","titleFont":"Noto Sans CJK SC","titlePadding":8}},
  "y":{"field":"y","type":"quantitative","scale":{"domain":[-1,1],"nice":false,"zero":false},"axis":{"values":[-1,-0.5,0,0.5,1],"labels":false,"title":null}}}},
{"width":190,"height":138,"data":{"name":"ec"},"mark":{"type":"line","clip":true},
 "encoding":{
  "x":{"field":"x","type":"quantitative","scale":{"domain":[0,2500],"nice":false,"zero":false},"axis":{"values":[0,500,1000,1500,2000,2500],"format":"d","title":"采样点数","titleFont":"Noto Sans CJK SC","titlePadding":8}},
  "y":{"field":"y","type":"quantitative","scale":{"domain":[-1,1],"nice":false,"zero":false},"axis":{"values":[-1,-0.5,0,0.5,1],"labels":false,"title":null}}}},
{"width":190,"height":138,"data":{"name":"pa"},"mark":{"type":"line","clip":true,"interpolate":"catmull-rom"},
 "title":{"text":"(a)","orient":"bottom","offset":8},
 "encoding":{
  "order":{"value":null},
  "x":{"field":"x","type":"quantitative","scale":{"domain":[-1,1],"nice":false,"zero":false},"axis":{"values":[-1,-0.5,0,0.5,1],"labelExpr":"datum.value==0?'0':format(datum.value,'.1f')","title":"x(t)","titleFontStyle":"italic","titlePadding":7,"labelPadding":10}},
  "y":{"field":"y","type":"quantitative","scale":{"domain":[-0.975,1],"nice":false,"zero":false},"axis":{"values":[-0.5,0,0.5,1],"labelExpr":"datum.value==0?'0':format(datum.value,'.1f')","title":"x(t+τ)","titleFontStyle":"italic","titlePadding":6}}}},
{"width":190,"height":138,"data":{"name":"pb"},"mark":{"type":"line","clip":true,"interpolate":"catmull-rom"},
 "title":{"text":"(b)","orient":"bottom","offset":8},
 "encoding":{
  "order":{"value":null},
  "x":{"field":"x","type":"quantitative","scale":{"domain":[-1,1],"nice":false,"zero":false},"axis":{"values":[-1,-0.5,0,0.5,1],"labelExpr":"datum.value==0?'0':format(datum.value,'.1f')","title":"x(t)","titleFontStyle":"italic","titlePadding":7,"labelPadding":10}},
  "y":{"field":"y","type":"quantitative","scale":{"domain":[-0.975,1],"nice":false,"zero":false},"axis":{"values":[-0.5,0,0.5,1],"labels":false,"title":null}}}},
{"width":190,"height":138,"data":{"name":"pc"},"mark":{"type":"line","clip":true,"interpolate":"catmull-rom"},
 "title":{"text":"(c)","orient":"bottom","offset":8},
 "encoding":{
  "order":{"value":null},
  "x":{"field":"x","type":"quantitative","scale":{"domain":[-1,1],"nice":false,"zero":false},"axis":{"values":[-1,-0.5,0,0.5,1],"labelExpr":"datum.value==0?'0':format(datum.value,'.1f')","title":"x(t)","titleFontStyle":"italic","titlePadding":7,"labelPadding":10}},
  "y":{"field":"y","type":"quantitative","scale":{"domain":[-0.975,1],"nice":false,"zero":false},"axis":{"values":[-0.5,0,0.5,1],"labels":false,"title":null}}}}
]
}
